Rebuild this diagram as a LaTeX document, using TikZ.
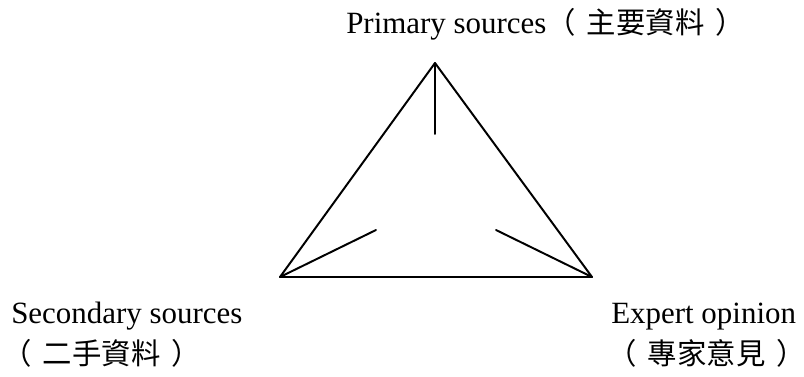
\documentclass[tikz,border=0pt]{standalone}
\usepackage{fontspec}
\setmainfont{Liberation Serif}
\newfontfamily\cjk{Noto Sans CJK TC}[Scale=0.95]
\newcommand{\zhparen}[1]{{\cjk（\hspace{0.38em}#1\hspace{0.38em}）}}
\begin{document}
\begin{tikzpicture}[x=0.025cm,y=-0.025cm,line cap=round,line join=round,
  lbl/.style={inner sep=0pt,anchor=base west,font=\fontsize{22}{26}\selectfont}]
  \useasboundingbox (0,0) rectangle (804,376);
  \coordinate (P) at (435,63);
  \coordinate (S) at (280,277);
  \coordinate (E) at (592,277);
  \coordinate (Pt) at (435,134);
  \coordinate (St) at (376,230);
  \coordinate (Et) at (496,230);
  \draw[line width=1.4pt] (P) -- (E) -- (S) -- cycle;
  \draw[line width=1.4pt] (P) -- (Pt);
  \draw[line width=1.4pt] (S) -- (St);
  \draw[line width=1.4pt] (E) -- (Et);
  \node[lbl] (primary) at (346,33) {Primary sources\zhparen{主要資料}};
  \node[lbl] (secondary) at (11,323) {Secondary sources};
  \node[lbl] (secondaryzh) at (2,364) {\zhparen{二手資料}};
  \node[lbl] (expert) at (611,323) {Expert opinion};
  \node[lbl] (expertzh) at (607,364) {\zhparen{專家意見}};
\end{tikzpicture}
\end{document}
